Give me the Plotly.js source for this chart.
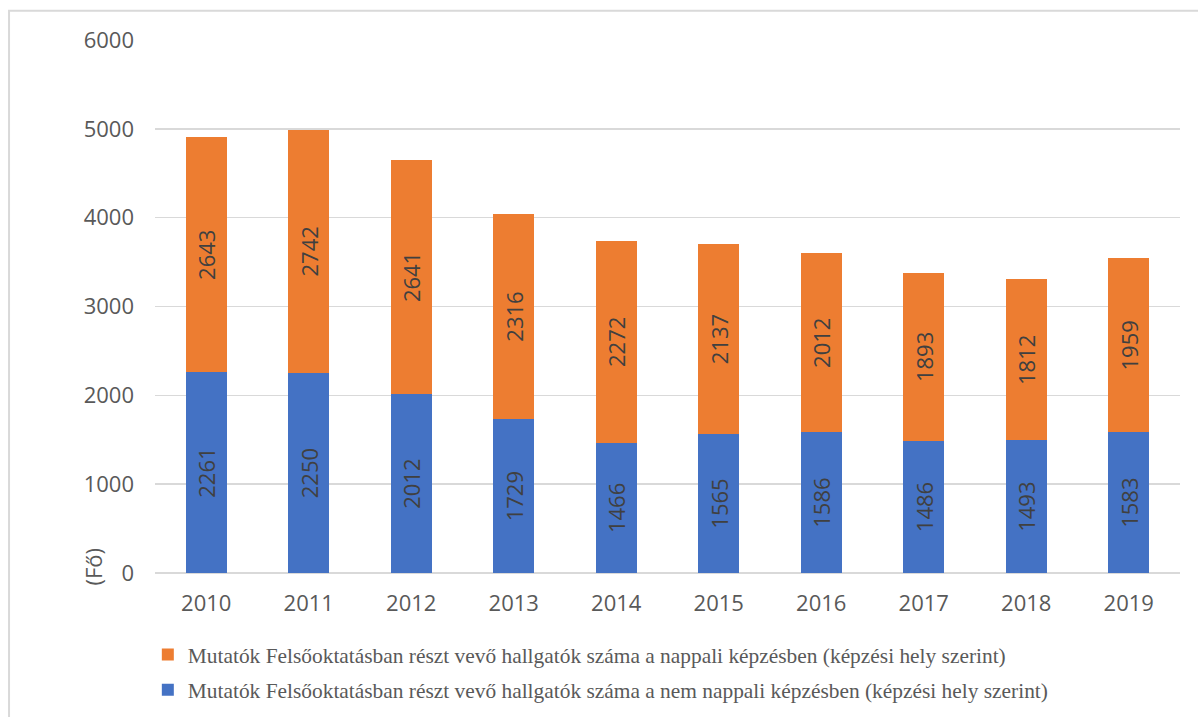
<!DOCTYPE html>
<html>
<head>
<meta charset="utf-8">
<script src="https://cdn.plot.ly/plotly-3.0.1.min.js"></script>
<style>
html,body{margin:0;padding:0;background:#fff;}
#chart{width:1198px;height:717px;}
</style>
</head>
<body>
<div id="chart"></div>
<script>
const years = ['2010','2011','2012','2013','2014','2015','2016','2017','2018','2019'];
const nemNappali = [2261, 2250, 2012, 1729, 1466, 1565, 1586, 1486, 1493, 1583];
const nappali = [2643, 2742, 2641, 2316, 2272, 2137, 2012, 1893, 1812, 1959];
const nameNappali = 'Mutatók Felsőoktatásban részt vevő hallgatók száma a nappali képzésben (képzési hely szerint)';
const nameNemNappali = 'Mutatók Felsőoktatásban részt vevő hallgatók száma a nem nappali képzésben (képzési hely szerint)';
const yTicks = [0, 1000, 2000, 3000, 4000, 5000, 6000];

const labelFont = {family: 'Open Sans, sans-serif', size: 22, color: '#404040'};

const traces = [
  {
    type: 'bar', x: years, y: nemNappali, name: nameNemNappali,
    marker: {color: '#4472C4'},
    text: nemNappali.map(String), textposition: 'inside', textangle: -90,
    insidetextanchor: 'middle', insidetextfont: labelFont,
    legend: 'legend2', hoverinfo: 'x+y'
  },
  {
    type: 'bar', x: years, y: nappali, name: nameNappali,
    marker: {color: '#ED7D31'},
    text: nappali.map(String), textposition: 'inside', textangle: -90,
    insidetextanchor: 'middle', insidetextfont: labelFont,
    legend: 'legend', hoverinfo: 'x+y'
  }
];

const legendFont = {family: 'Liberation Serif, Times New Roman, serif', size: 21.4, color: '#595959'};

const layout = {
  width: 1198, height: 717,
  margin: {l: 155, r: 18, t: 40, b: 144, pad: 0, autoexpand: false},
  paper_bgcolor: '#ffffff', plot_bgcolor: '#ffffff',
  barmode: 'stack', bargap: 0.6,
  font: {family: 'Open Sans, sans-serif', color: '#595959'},
  xaxis: {
    type: 'category', showgrid: false, zeroline: false,
    showline: false, ticks: '',
    tickfont: {family: 'Open Sans, sans-serif', size: 22, color: '#595959'},
    ticklabelstandoff: 15
  },
  yaxis: {
    range: [0, 6000], tickvals: yTicks, ticktext: yTicks.map(String),
    showgrid: true, gridcolor: '#d9d9d9', gridwidth: 1.5,
    zeroline: true, zerolinecolor: '#d9d9d9', zerolinewidth: 1.5,
    showline: false, ticks: '',
    tickfont: {family: 'Open Sans, sans-serif', size: 22, color: '#595959'},
    ticklabelstandoff: 20
  },
  showlegend: true,
  legend: {
    x: -0.007, xanchor: 'left', y: -0.153, yanchor: 'middle',
    orientation: 'v', font: legendFont, bgcolor: 'rgba(0,0,0,0)',
    itemwidth: 30, itemclick: false, itemdoubleclick: false
  },
  legend2: {
    x: -0.007, xanchor: 'left', y: -0.219, yanchor: 'middle',
    orientation: 'v', font: legendFont, bgcolor: 'rgba(0,0,0,0)',
    itemwidth: 30, itemclick: false, itemdoubleclick: false
  },
  annotations: [{
    text: '(Fő)', textangle: -90, showarrow: false,
    xref: 'paper', yref: 'paper', x: -0.0605, y: 0.012,
    xanchor: 'center', yanchor: 'middle',
    font: {family: 'Open Sans, sans-serif', size: 22, color: '#595959'}
  }],
  shapes: [{
    type: 'rect', xref: 'paper', yref: 'paper',
    x0: -0.1424, x1: 1.3, y0: -0.6, y1: 1.055,
    line: {color: '#d9d9d9', width: 2}, fillcolor: 'rgba(0,0,0,0)', layer: 'below'
  }]
};

Plotly.newPlot('chart', traces, layout, {displayModeBar: false, staticPlot: true});
</script>
</body>
</html>
